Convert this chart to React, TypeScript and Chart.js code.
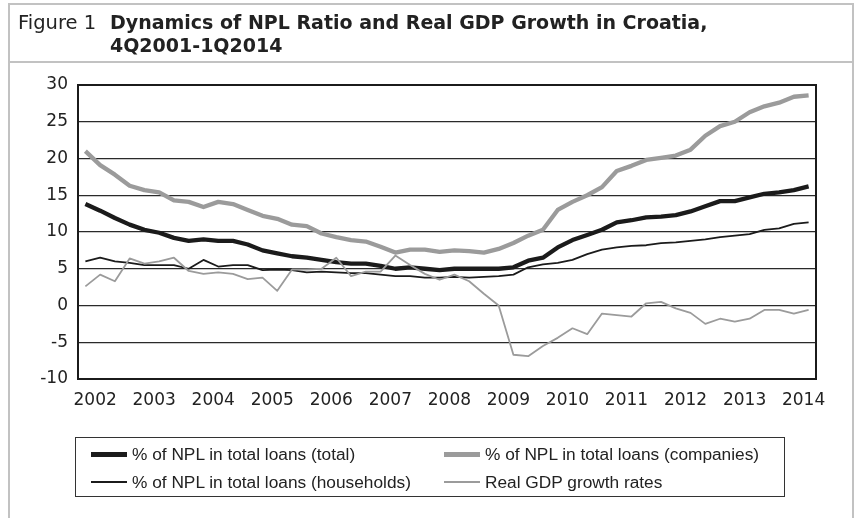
import React, { useEffect, useRef } from "react";
import { Chart, registerables } from "chart.js";

Chart.register(...registerables);

const quarters = [
  "4Q2001",
  "1Q2002", "2Q2002", "3Q2002", "4Q2002",
  "1Q2003", "2Q2003", "3Q2003", "4Q2003",
  "1Q2004", "2Q2004", "3Q2004", "4Q2004",
  "1Q2005", "2Q2005", "3Q2005", "4Q2005",
  "1Q2006", "2Q2006", "3Q2006", "4Q2006",
  "1Q2007", "2Q2007", "3Q2007", "4Q2007",
  "1Q2008", "2Q2008", "3Q2008", "4Q2008",
  "1Q2009", "2Q2009", "3Q2009", "4Q2009",
  "1Q2010", "2Q2010", "3Q2010", "4Q2010",
  "1Q2011", "2Q2011", "3Q2011", "4Q2011",
  "1Q2012", "2Q2012", "3Q2012", "4Q2012",
  "1Q2013", "2Q2013", "3Q2013", "4Q2013",
  "1Q2014",
];

const nplTotal = [
  13.8, 12.9, 11.9, 11.0, 10.3, 9.9, 9.2, 8.8, 9.0, 8.8, 8.8, 8.3, 7.5,
  7.1, 6.7, 6.5, 6.2, 5.9, 5.7, 5.7, 5.4, 5.0, 5.2, 5.0, 4.8, 5.0,
  5.0, 5.0, 5.0, 5.2, 6.1, 6.5, 7.9, 8.9, 9.6, 10.3, 11.3, 11.6, 12.0,
  12.1, 12.3, 12.8, 13.5, 14.2, 14.2, 14.7, 15.2, 15.4, 15.7, 16.2,
];

const nplCompanies = [
  21.0, 19.1, 17.8, 16.3, 15.7, 15.4, 14.3, 14.1, 13.4, 14.1, 13.8, 13.0, 12.2,
  11.8, 11.0, 10.8, 9.8, 9.3, 8.9, 8.7, 8.0, 7.2, 7.6, 7.6, 7.3, 7.5,
  7.4, 7.2, 7.7, 8.5, 9.5, 10.3, 13.0, 14.1, 15.0, 16.1, 18.3, 19.0, 19.8,
  20.1, 20.4, 21.2, 23.1, 24.4, 25.0, 26.3, 27.1, 27.6, 28.4, 28.6,
];

const nplHouseholds = [
  6.0, 6.5, 6.0, 5.8, 5.5, 5.5, 5.5, 5.0, 6.2, 5.3, 5.5, 5.5, 4.8,
  4.9, 4.8, 4.5, 4.6, 4.5, 4.4, 4.4, 4.2, 4.0, 4.0, 3.8, 3.8, 3.9,
  3.8, 3.9, 4.0, 4.2, 5.2, 5.6, 5.8, 6.2, 7.0, 7.6, 7.9, 8.1, 8.2,
  8.5, 8.6, 8.8, 9.0, 9.3, 9.5, 9.7, 10.3, 10.5, 11.1, 11.3,
];

const gdpGrowth = [
  2.6, 4.2, 3.3, 6.4, 5.7, 6.0, 6.5, 4.7, 4.3, 4.5, 4.3, 3.6, 3.8,
  2.0, 4.9, 4.9, 5.0, 6.5, 4.0, 4.6, 4.6, 6.8, 5.5, 4.3, 3.5, 4.2,
  3.3, 1.6, 0.0, -6.7, -6.9, -5.5, -4.4, -3.1, -3.9, -1.1, -1.3, -1.5, 0.3,
  0.5, -0.4, -1.0, -2.5, -1.8, -2.2, -1.8, -0.6, -0.6, -1.1, -0.6,
];

const seriesNames = [
  "% of NPL in total loans (total)",
  "% of NPL in total loans (companies)",
  "% of NPL in total loans (households)",
  "Real GDP growth rates",
];

const BLACK = "#1b1b1b";
const GRAY = "#9b9b9b";
const TICK_FONT = "'DejaVu Sans', sans-serif";

const plotBorder = {
  id: "plotBorder",
  afterDraw(chart: any) {
    const { ctx, chartArea: a } = chart;
    ctx.save();
    ctx.strokeStyle = BLACK;
    ctx.lineWidth = 2;
    ctx.strokeRect(a.left, a.top, a.right - a.left, a.bottom - a.top);
    ctx.restore();
  },
};

function LegendItem({ name, color, thick }: { name: string; color: string; thick: boolean }) {
  return (
    <div style={{ display: "flex", alignItems: "center", height: 28, whiteSpace: "nowrap" }}>
      <div style={{ width: 36, height: thick ? 5 : 2, background: color, marginRight: 5, flex: "none" }} />
      <span>{name}</span>
    </div>
  );
}

export default function App() {
  const ref = useRef<HTMLCanvasElement | null>(null);

  useEffect(() => {
    if (!ref.current) return;
    const chart = new Chart(ref.current, {
      type: "line",
      data: {
        labels: quarters,
        datasets: [
          { label: seriesNames[0], data: nplTotal, borderColor: BLACK, borderWidth: 4.3, order: 3 },
          { label: seriesNames[1], data: nplCompanies, borderColor: GRAY, borderWidth: 4.3, order: 2 },
          { label: seriesNames[2], data: nplHouseholds, borderColor: BLACK, borderWidth: 1.8, order: 1 },
          { label: seriesNames[3], data: gdpGrowth, borderColor: GRAY, borderWidth: 1.8, order: 0 },
        ],
      },
      options: {
        animation: false,
        responsive: false,
        devicePixelRatio: 1,
        layout: { padding: { top: 85, left: 0, right: 38, bottom: 99 } },
        elements: { point: { radius: 0 }, line: { tension: 0, borderJoinStyle: "round" } },
        plugins: { legend: { display: false }, tooltip: { enabled: false } },
        scales: {
          x: {
            offset: true,
            grid: { display: false },
            border: { display: false },
            ticks: {
              autoSkip: false,
              maxRotation: 0,
              minRotation: 0,
              padding: 3,
              labelOffset: -5,
              color: "#222",
              font: { family: TICK_FONT, size: 17 },
              callback: (_v: any, i: number) =>
                quarters[i].startsWith("1Q") ? quarters[i].slice(2) : "",
            },
            afterFit: (s: any) => {
              s.height = 40;
            },
          },
          y: {
            min: -10,
            max: 30,
            ticks: {
              stepSize: 5,
              padding: 10,
              color: "#222",
              font: { family: TICK_FONT, size: 17 },
            },
            grid: { color: "#2a2a2a", lineWidth: 1.3, drawTicks: false },
            border: { display: false },
            afterFit: (s: any) => {
              s.width = 78;
            },
          },
        },
      },
      plugins: [plotBorder],
    });
    return () => chart.destroy();
  }, []);

  return (
    <div
      style={{
        position: "fixed",
        left: 0,
        top: 0,
        width: 854,
        height: 518,
        overflow: "hidden",
        background: "#fff",
        color: "#222",
      }}
    >
      <canvas ref={ref} width={854} height={518} style={{ position: "absolute", left: 0, top: 0 }} />
      <div
        style={{
          position: "absolute",
          left: 8,
          top: 3,
          width: 842,
          height: 600,
          border: "2px solid #c2c2c2",
          borderBottom: "none",
          pointerEvents: "none",
        }}
      />
      <div style={{ position: "absolute", left: 8, top: 61, width: 846, height: 2, background: "#c2c2c2" }} />
      <div
        style={{
          position: "absolute",
          left: 18,
          top: 11,
          fontFamily: "'DejaVu Sans', sans-serif",
          fontSize: 19.5,
          lineHeight: "23px",
          whiteSpace: "nowrap",
        }}
      >
        Figure 1
      </div>
      <div
        style={{
          position: "absolute",
          left: 110,
          top: 11,
          fontFamily: "'DejaVu Sans', sans-serif",
          fontWeight: "bold",
          fontSize: 19,
          lineHeight: "23px",
          whiteSpace: "nowrap",
        }}
      >
        Dynamics of NPL Ratio and Real GDP Growth in Croatia,
        <br />
        4Q2001-1Q2014
      </div>
      <div
        style={{
          position: "absolute",
          left: 75,
          top: 437,
          width: 708,
          height: 58,
          border: "1px solid #333",
          fontFamily: "'Liberation Sans', sans-serif",
          fontSize: 17.3,
          color: "#222",
          boxSizing: "content-box",
        }}
      >
        <div style={{ position: "absolute", left: 15, top: 2 }}>
          <LegendItem name={seriesNames[0]} color={BLACK} thick />
          <LegendItem name={seriesNames[2]} color={BLACK} thick={false} />
        </div>
        <div style={{ position: "absolute", left: 368, top: 2 }}>
          <LegendItem name={seriesNames[1]} color={GRAY} thick />
          <LegendItem name={seriesNames[3]} color={GRAY} thick={false} />
        </div>
      </div>
    </div>
  );
}
